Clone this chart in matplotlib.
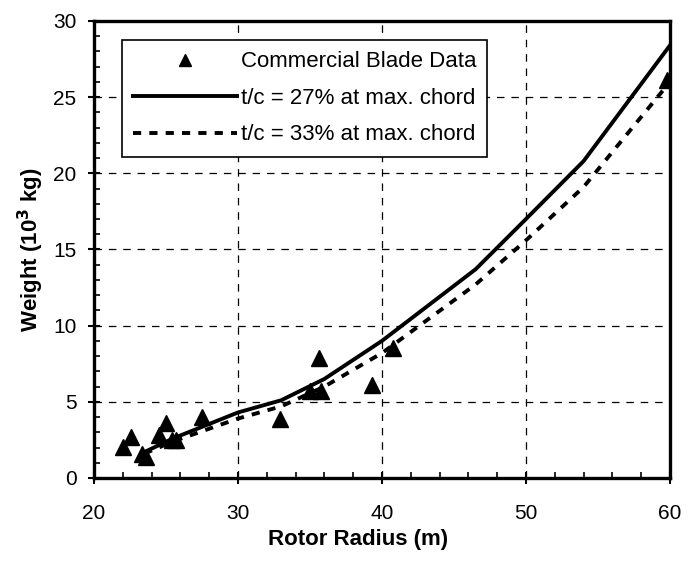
import numpy as np
import matplotlib.pyplot as plt
from matplotlib.ticker import MultipleLocator

plt.rcParams['font.family'] = ['Liberation Sans', 'DejaVu Sans']

# commercial blade data (rotor radius m, weight 10^3 kg)
blade_r = [22.0, 22.6, 23.3, 23.6, 24.5, 25.0, 25.4, 25.7, 27.5, 32.9, 35.0, 35.6, 35.8, 39.3, 40.8, 59.8]
blade_w = [2.05, 2.7, 1.6, 1.4, 2.8, 3.6, 2.5, 2.5, 4.0, 3.9, 5.7, 7.9, 5.7, 6.1, 8.5, 26.1]

# model curves
model_r = [23.5, 25.5, 30.0, 33.0, 36.0, 40.0, 46.5, 50.0, 54.0, 60.0]
w_27 = [1.7, 2.6, 4.3, 5.1, 6.5, 9.0, 13.7, 17.0, 20.8, 28.4]
w_33 = [1.6, 2.4, 3.9, 4.7, 6.0, 8.2, 12.7, 15.6, 19.1, 26.0]

fig = plt.figure(figsize=(6.88, 5.61), dpi=100)
ax = fig.add_axes([0.1366, 0.148, 0.8372, 0.8146])

ax.plot(blade_r, blade_w, linestyle='none', marker='^', color='black',
        markersize=11, label='Commercial Blade Data', zorder=4)
ax.plot(model_r, w_27, color='black', lw=2.8, label='t/c = 27% at max. chord', zorder=3)
ax.plot(model_r, w_33, color='black', lw=2.8, linestyle=(0, (2.1, 2.1)),
        label='t/c = 33% at max. chord', zorder=3)

ax.set_xlim(20, 60)
ax.set_ylim(0, 30)
ax.xaxis.set_major_locator(MultipleLocator(10))
ax.xaxis.set_minor_locator(MultipleLocator(2))
ax.yaxis.set_major_locator(MultipleLocator(5))
ax.yaxis.set_minor_locator(MultipleLocator(1))
ax.tick_params(which='major', direction='inout', length=9, width=1.5, labelsize=15)
ax.tick_params(axis='x', which='major', pad=14)
ax.tick_params(axis='y', which='major', pad=8)
ax.tick_params(which='minor', direction='in', length=4.5, width=1.2)
for s in ax.spines.values():
    s.set_linewidth(2.4)

ax.grid(True, which='major', color='black', lw=0.9, linestyle=(0, (6, 5.5)))

ax.set_xlabel('Rotor Radius (m)', fontsize=16, fontweight='bold')
ax.xaxis.label.set_va('center')
ax.xaxis.set_label_coords(0.458, -0.134)
ax.set_ylabel(r'Weight (10$^{\mathbf{3}}$ kg)', fontsize=16, fontweight='bold', labelpad=5)

leg = ax.legend(loc='upper left', bbox_to_anchor=(0.048, 0.958), borderaxespad=0,
                fontsize=16, frameon=True, fancybox=False, edgecolor='black',
                framealpha=1, handlelength=4.7, handletextpad=0.15, borderpad=0.5,
                labelspacing=0.7, markerscale=0.8)
leg.get_frame().set_linewidth(1.2)

plt.savefig('out.png', dpi=100)
